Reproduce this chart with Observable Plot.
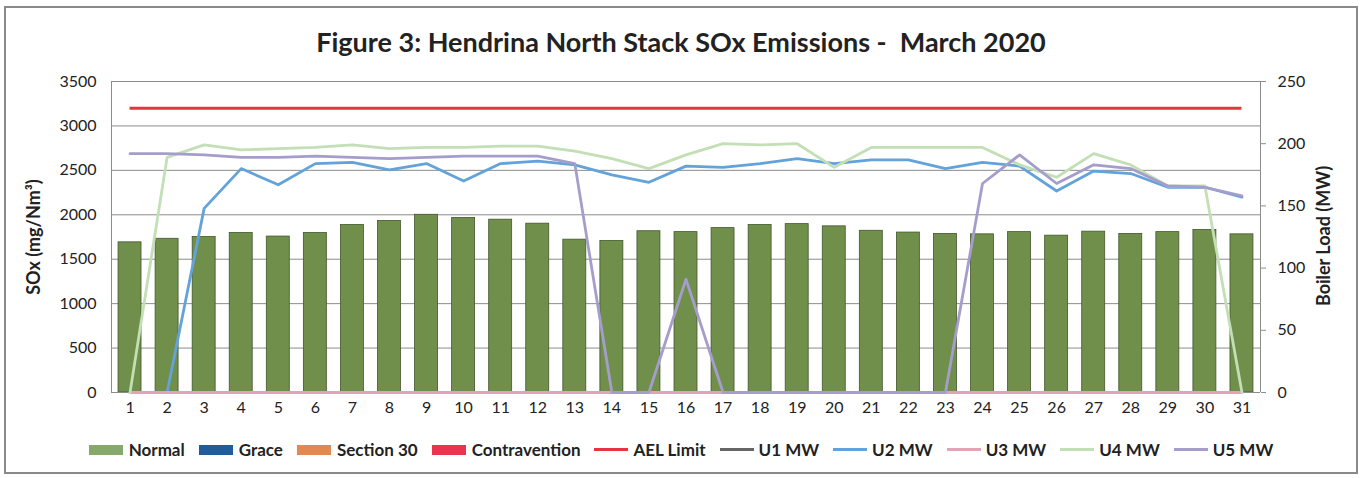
<!DOCTYPE html>
<html><head><meta charset="utf-8">
<script src="https://cdn.jsdelivr.net/npm/d3@7"></script>
<script src="https://cdn.jsdelivr.net/npm/@observablehq/plot@0.6"></script>
<style>
body{margin:0;background:#fff;font-family:Lato,"Open Sans",sans-serif;color:#222;}
#frame{position:absolute;left:4px;top:6px;width:1350px;height:464px;border:2px solid #8a8a8a;box-sizing:content-box;}
#title{position:absolute;left:0;top:25px;width:1362px;text-align:center;font-weight:bold;font-size:27px;white-space:pre;color:#222;}
#chart{position:absolute;left:0;top:60px;}
#legend{position:absolute;top:439px;left:0;width:1362px;display:flex;justify-content:center;align-items:center;font-size:17px;font-weight:bold;color:#222;}
.item{display:flex;align-items:center;margin:0 7px;}
.sw{width:34px;height:10px;margin-right:6px;}
.ln{width:34px;height:3px;margin-right:5px;}
.ytitle{position:absolute;font-weight:bold;font-size:18px;white-space:nowrap;transform:translate(-50%,-50%) rotate(-90deg);color:#222;}
</style></head>
<body>
<div id="frame"></div>
<div id="title">Figure 3: Hendrina North Stack SOx Emissions -  March 2020</div>
<div id="chart"></div>
<div id="legend"></div>
<div class="ytitle" id="yl" style="left:33px;top:237px;"></div>
<div class="ytitle" id="yr" style="left:1323px;top:236px;"></div>
<script>
const days = [1,2,3,4,5,6,7,8,9,10,11,12,13,14,15,16,17,18,19,20,21,22,23,24,25,26,27,28,29,30,31];
const normal = [1690,1730,1750,1795,1755,1795,1885,1930,2000,1965,1945,1900,1720,1705,1815,1805,1850,1885,1895,1870,1820,1800,1785,1780,1805,1765,1810,1785,1805,1830,1780];
const aelLimit = 3200;
const u1MW = [0,0,0,0,0,0,0,0,0,0,0,0,0,0,0,0,0,0,0,0,0,0,0,0,0,0,0,0,0,0,0];
const u2MW = [0,0,148,180,167,184,185,179,184,170,184,186,183,175,169,182,181,184,188,184,187,187,180,185,182,162,178,176,165,165,157];
const u3MW = [0,0,0,0,0,0,0,0,0,0,0,0,0,0,0,0,0,0,0,0,0,0,0,0,0,0,0,0,0,0,0];
const u4MW = [0,189,199,195,196,197,199,196,197,197,198,198,194,188,180,191,200,199,200,181,197,197,197,197,183,173,192,183,166,166,0];
const u5MW = [192,192,191,189,189,190,189,188,189,190,190,190,184,0,0,91,0,0,0,0,0,0,0,168,191,168,183,180,166,165,158];
const leftTicks = [0,500,1000,1500,2000,2500,3000,3500];
const rightTicks = [0,50,100,150,200,250];
const leftTitle = "SOx (mg/Nm³)";
const rightTitle = "Boiler Load (MW)";

const barColor = "#6f8f4b";
const legendBars = [["Normal","#86a86a"],["Grace","#1f5c99"],["Section 30","#e5884f"],["Contravention","#e8364f"]];
const unitSeries = [["U1 MW",u1MW,"#666666"],["U2 MW",u2MW,"#64a2da"],["U3 MW",u3MW,"#e3a3b6"],["U4 MW",u4MW,"#c2dfb5"],["U5 MW",u5MW,"#a59dcc"]];
const aelColor = "#e8343f";

const yMax = 3500, mwMax = 250, k = yMax / mwMax;
const bars = days.map((d,i)=>({day:d, v:normal[i]}));
const half = 0.31;

const lineMarks = unitSeries.map(([name, vals, color]) =>
  Plot.line(days.map((d,i)=>({day:d, v:vals[i]*k})), {x:"day", y:"v", stroke:color, strokeWidth:2.8, strokeLinejoin:"round"}));

const chart = Plot.plot({
  width:1362, height:360, marginLeft:111, marginRight:102, marginTop:21, marginBottom:28,
  x:{type:"linear", domain:[0.5,31.5]},
  y:{domain:[0,yMax]},
  style:{fontFamily:"Lato, 'Open Sans', sans-serif", fontSize:"16px", color:"#222", background:"transparent"},
  marks:[
    Plot.gridY(leftTicks, {stroke:"#8c8c8c", strokeOpacity:1, strokeWidth:1}),
    Plot.rectY(bars, {x1:d=>d.day-half, x2:d=>d.day+half, y1:0, y2:"v", fill:barColor, stroke:"#42572c", strokeWidth:0.8}),
    Plot.ruleX([0.5], {stroke:"#8c8c8c"}),
    Plot.ruleX([31.5], {stroke:"#8c8c8c"}),
    Plot.ruleY([0], {stroke:"#8c8c8c"}),
    Plot.ruleY([aelLimit], {x1:days[0], x2:days[days.length-1], stroke:aelColor, strokeWidth:3}),
    ...lineMarks,
    Plot.axisY(leftTicks, {anchor:"left", tickSize:0, tickPadding:15, tickFormat:d=>String(d), label:null}),
    Plot.axisY(rightTicks.map(t=>t*k), {anchor:"right", tickSize:5, tickPadding:12, tickFormat:t=>String(t/k), stroke:"#8c8c8c", label:null}),
    Plot.axisX(days, {tickSize:0, tickPadding:9, tickFormat:d=>String(d), label:null})
  ]
});
document.getElementById("chart").appendChild(chart);
document.getElementById("yl").textContent = leftTitle;
document.getElementById("yr").textContent = rightTitle;

const leg = document.getElementById("legend");
for (const [name,color] of legendBars) {
  const it = document.createElement("div"); it.className="item";
  it.innerHTML = `<span class="sw" style="background:${color}"></span><span>${name}</span>`;
  leg.appendChild(it);
}
const lineLegend = [["AEL Limit", aelColor], ...unitSeries.map(s=>[s[0], s[2]])];
for (const [name,color] of lineLegend) {
  const it = document.createElement("div"); it.className="item";
  it.innerHTML = `<span class="ln" style="background:${color}"></span><span>${name}</span>`;
  leg.appendChild(it);
}
</script>
</body></html>
